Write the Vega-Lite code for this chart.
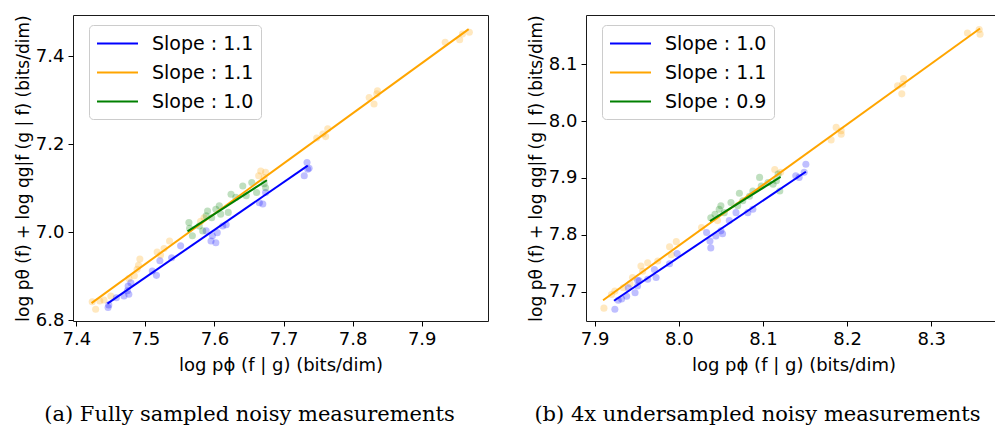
{
  "$schema": "https://vega.github.io/schema/vega-lite/v6.json",
  "autosize": {"type": "pad"},
  "padding": {"left": 13, "top": 14, "right": 0, "bottom": 0},
  "background": "white",
  "config": {
    "view": {"stroke": "#1a1a1a", "strokeWidth": 1},
    "axis": {"grid": false, "domain": false, "tickColor": "#000", "tickSize": 5, "tickWidth": 1, "labelFont": "DejaVu Sans", "labelFontSize": 18, "labelColor": "#000", "labelPadding": 4, "titleFont": "DejaVu Sans", "titleFontSize": 18, "titleFontWeight": "normal", "titleColor": "#000", "format": ".1f"},
    "axisX": {"titlePadding": 8},
    "legend": {"orient": "none", "legendX": 16, "legendY": 10, "padding": 7, "fillColor": "white", "strokeColor": "#cccccc", "cornerRadius": 4, "symbolType": "M-2,0H2", "symbolSize": 420, "symbolOffset": 10, "symbolStrokeWidth": 2, "labelFont": "DejaVu Sans", "labelFontSize": 19, "labelColor": "#000", "labelOffset": 23, "rowPadding": 7, "title": null},
    "title": {"font": "DejaVu Serif", "fontSize": 21, "fontWeight": "normal", "color": "#000", "orient": "bottom", "anchor": "middle"}
  },
  "datasets": {
    "pa": [
      {"s": "s2", "x": 7.423, "y": 6.842}, {"s": "s2", "x": 7.428, "y": 6.825}, {"s": "s2", "x": 7.434, "y": 6.844}, {"s": "s2", "x": 7.440, "y": 6.846}, {"s": "s2", "x": 7.450, "y": 6.855},
      {"s": "s2", "x": 7.476, "y": 6.895}, {"s": "s2", "x": 7.484, "y": 6.901}, {"s": "s2", "x": 7.488, "y": 6.916}, {"s": "s2", "x": 7.490, "y": 6.925}, {"s": "s2", "x": 7.492, "y": 6.939},
      {"s": "s2", "x": 7.517, "y": 6.955}, {"s": "s2", "x": 7.522, "y": 6.948}, {"s": "s2", "x": 7.527, "y": 6.963}, {"s": "s2", "x": 7.535, "y": 6.980}, {"s": "s2", "x": 7.580, "y": 7.025},
      {"s": "s2", "x": 7.585, "y": 7.033}, {"s": "s2", "x": 7.664, "y": 7.128}, {"s": "s2", "x": 7.667, "y": 7.139}, {"s": "s2", "x": 7.674, "y": 7.136}, {"s": "s2", "x": 7.672, "y": 7.124},
      {"s": "s2", "x": 7.748, "y": 7.214}, {"s": "s2", "x": 7.757, "y": 7.223}, {"s": "s2", "x": 7.761, "y": 7.217}, {"s": "s2", "x": 7.764, "y": 7.235}, {"s": "s2", "x": 7.824, "y": 7.306},
      {"s": "s2", "x": 7.831, "y": 7.291}, {"s": "s2", "x": 7.836, "y": 7.321}, {"s": "s2", "x": 7.835, "y": 7.314}, {"s": "s2", "x": 7.934, "y": 7.431}, {"s": "s2", "x": 7.955, "y": 7.437},
      {"s": "s2", "x": 7.959, "y": 7.450}, {"s": "s2", "x": 7.969, "y": 7.454},
      {"s": "s1", "x": 7.446, "y": 6.829}, {"s": "s1", "x": 7.447, "y": 6.835}, {"s": "s1", "x": 7.458, "y": 6.851}, {"s": "s1", "x": 7.469, "y": 6.855}, {"s": "s1", "x": 7.474, "y": 6.867},
      {"s": "s1", "x": 7.475, "y": 6.878}, {"s": "s1", "x": 7.479, "y": 6.885}, {"s": "s1", "x": 7.476, "y": 6.859}, {"s": "s1", "x": 7.510, "y": 6.912}, {"s": "s1", "x": 7.516, "y": 6.902},
      {"s": "s1", "x": 7.521, "y": 6.935}, {"s": "s1", "x": 7.538, "y": 6.942}, {"s": "s1", "x": 7.551, "y": 6.969}, {"s": "s1", "x": 7.588, "y": 7.003}, {"s": "s1", "x": 7.595, "y": 6.980},
      {"s": "s1", "x": 7.597, "y": 6.992}, {"s": "s1", "x": 7.604, "y": 6.999}, {"s": "s1", "x": 7.612, "y": 7.014}, {"s": "s1", "x": 7.617, "y": 7.017}, {"s": "s1", "x": 7.602, "y": 6.976},
      {"s": "s1", "x": 7.665, "y": 7.067}, {"s": "s1", "x": 7.670, "y": 7.064}, {"s": "s1", "x": 7.674, "y": 7.090}, {"s": "s1", "x": 7.734, "y": 7.158}, {"s": "s1", "x": 7.735, "y": 7.143},
      {"s": "s1", "x": 7.730, "y": 7.128}, {"s": "s1", "x": 7.737, "y": 7.145},
      {"s": "s3", "x": 7.564, "y": 7.009}, {"s": "s3", "x": 7.568, "y": 6.992}, {"s": "s3", "x": 7.578, "y": 7.014}, {"s": "s3", "x": 7.588, "y": 7.037}, {"s": "s3", "x": 7.590, "y": 7.048},
      {"s": "s3", "x": 7.596, "y": 7.033}, {"s": "s3", "x": 7.602, "y": 7.052}, {"s": "s3", "x": 7.607, "y": 7.060}, {"s": "s3", "x": 7.609, "y": 7.041}, {"s": "s3", "x": 7.620, "y": 7.045},
      {"s": "s3", "x": 7.624, "y": 7.086}, {"s": "s3", "x": 7.631, "y": 7.079}, {"s": "s3", "x": 7.641, "y": 7.105}, {"s": "s3", "x": 7.646, "y": 7.083}, {"s": "s3", "x": 7.654, "y": 7.113},
      {"s": "s3", "x": 7.661, "y": 7.090}, {"s": "s3", "x": 7.672, "y": 7.110}, {"s": "s3", "x": 7.674, "y": 7.101}, {"s": "s3", "x": 7.563, "y": 7.022}, {"s": "s3", "x": 7.583, "y": 7.003}
    ],
    "la": [
      {"s": "s1", "x": 7.445, "y": 6.838}, {"s": "s1", "x": 7.735, "y": 7.151},
      {"s": "s2", "x": 7.422, "y": 6.839}, {"s": "s2", "x": 7.968, "y": 7.461},
      {"s": "s3", "x": 7.561, "y": 7.002}, {"s": "s3", "x": 7.676, "y": 7.118}
    ],
    "pb": [
      {"s": "s2", "x": 7.911, "y": 7.671}, {"s": "s2", "x": 7.920, "y": 7.695}, {"s": "s2", "x": 7.924, "y": 7.701}, {"s": "s2", "x": 7.934, "y": 7.707}, {"s": "s2", "x": 7.942, "y": 7.714},
      {"s": "s2", "x": 7.945, "y": 7.725}, {"s": "s2", "x": 7.955, "y": 7.745}, {"s": "s2", "x": 7.957, "y": 7.736}, {"s": "s2", "x": 7.963, "y": 7.751}, {"s": "s2", "x": 7.975, "y": 7.754},
      {"s": "s2", "x": 7.989, "y": 7.779}, {"s": "s2", "x": 7.991, "y": 7.765}, {"s": "s2", "x": 7.997, "y": 7.788}, {"s": "s2", "x": 8.027, "y": 7.813}, {"s": "s2", "x": 8.046, "y": 7.825},
      {"s": "s2", "x": 8.114, "y": 7.915}, {"s": "s2", "x": 8.121, "y": 7.910}, {"s": "s2", "x": 8.181, "y": 7.967}, {"s": "s2", "x": 8.187, "y": 7.989}, {"s": "s2", "x": 8.193, "y": 7.977},
      {"s": "s2", "x": 8.193, "y": 7.983}, {"s": "s2", "x": 8.260, "y": 8.062}, {"s": "s2", "x": 8.265, "y": 8.048}, {"s": "s2", "x": 8.266, "y": 8.065}, {"s": "s2", "x": 8.267, "y": 8.075},
      {"s": "s2", "x": 8.343, "y": 8.155}, {"s": "s2", "x": 8.357, "y": 8.161}, {"s": "s2", "x": 8.358, "y": 8.153},
      {"s": "s1", "x": 7.924, "y": 7.669}, {"s": "s1", "x": 7.928, "y": 7.685}, {"s": "s1", "x": 7.932, "y": 7.687}, {"s": "s1", "x": 7.938, "y": 7.692}, {"s": "s1", "x": 7.940, "y": 7.707},
      {"s": "s1", "x": 7.948, "y": 7.698}, {"s": "s1", "x": 7.951, "y": 7.720}, {"s": "s1", "x": 7.951, "y": 7.710}, {"s": "s1", "x": 7.953, "y": 7.719}, {"s": "s1", "x": 7.963, "y": 7.722},
      {"s": "s1", "x": 7.971, "y": 7.739}, {"s": "s1", "x": 7.973, "y": 7.725}, {"s": "s1", "x": 7.989, "y": 7.749}, {"s": "s1", "x": 7.998, "y": 7.767}, {"s": "s1", "x": 8.033, "y": 7.804},
      {"s": "s1", "x": 8.037, "y": 7.789}, {"s": "s1", "x": 8.038, "y": 7.777}, {"s": "s1", "x": 8.044, "y": 7.798}, {"s": "s1", "x": 8.050, "y": 7.807}, {"s": "s1", "x": 8.052, "y": 7.802},
      {"s": "s1", "x": 8.060, "y": 7.825}, {"s": "s1", "x": 8.068, "y": 7.839}, {"s": "s1", "x": 8.082, "y": 7.839}, {"s": "s1", "x": 8.088, "y": 7.845}, {"s": "s1", "x": 8.139, "y": 7.904},
      {"s": "s1", "x": 8.143, "y": 7.901}, {"s": "s1", "x": 8.149, "y": 7.910}, {"s": "s1", "x": 8.151, "y": 7.924},
      {"s": "s3", "x": 8.038, "y": 7.830}, {"s": "s3", "x": 8.043, "y": 7.836}, {"s": "s3", "x": 8.048, "y": 7.845}, {"s": "s3", "x": 8.050, "y": 7.851}, {"s": "s3", "x": 8.054, "y": 7.839},
      {"s": "s3", "x": 8.062, "y": 7.857}, {"s": "s3", "x": 8.070, "y": 7.851}, {"s": "s3", "x": 8.072, "y": 7.873}, {"s": "s3", "x": 8.076, "y": 7.860}, {"s": "s3", "x": 8.084, "y": 7.868},
      {"s": "s3", "x": 8.088, "y": 7.877}, {"s": "s3", "x": 8.096, "y": 7.901}, {"s": "s3", "x": 8.098, "y": 7.886}, {"s": "s3", "x": 8.106, "y": 7.892}, {"s": "s3", "x": 8.112, "y": 7.889},
      {"s": "s3", "x": 8.118, "y": 7.907}, {"s": "s3", "x": 8.120, "y": 7.877}, {"s": "s3", "x": 8.116, "y": 7.895}
    ],
    "lb": [
      {"s": "s1", "x": 7.923, "y": 7.684}, {"s": "s1", "x": 8.151, "y": 7.911},
      {"s": "s2", "x": 7.910, "y": 7.685}, {"s": "s2", "x": 8.358, "y": 8.163},
      {"s": "s3", "x": 8.037, "y": 7.824}, {"s": "s3", "x": 8.121, "y": 7.902}
    ]
  },
  "spacing": 37,
  "resolve": {"legend": {"color": "independent"}, "scale": {"color": "independent"}},
  "hconcat": [
    {
      "width": 415, "height": 306,
      "title": {"text": "(a) Fully sampled noisy measurements", "offset": 30, "dx": -31},
      "layer": [
        {
          "data": {"name": "pa"},
          "mark": {"type": "circle", "size": 50, "opacity": 0.25},
          "encoding": {
            "x": {"field": "x", "type": "quantitative", "scale": {"domain": [7.3952, 7.996], "nice": false, "zero": false}, "axis": {"values": [7.4, 7.5, 7.6, 7.7, 7.8, 7.9], "title": "log pϕ (f | g) (bits/dim)"}},
            "y": {"field": "y", "type": "quantitative", "scale": {"domain": [6.7984, 7.4931], "nice": false, "zero": false}, "axis": {"values": [6.8, 7.0, 7.2, 7.4], "title": "log pθ (f) + log qg|f (g | f) (bits/dim)", "titlePadding": 3, "titleFontSize": 17}},
            "fill": {"field": "s", "type": "nominal", "scale": {"domain": ["s1", "s2", "s3"], "range": ["#0000ff", "#ffa500", "#008000"]}, "legend": null}
          }
        },
        {
          "data": {"name": "la"},
          "mark": {"type": "line", "strokeWidth": 2},
          "encoding": {
            "x": {"field": "x", "type": "quantitative"},
            "y": {"field": "y", "type": "quantitative"},
            "color": {"field": "s", "type": "nominal", "scale": {"domain": ["s1", "s2", "s3"], "range": ["#0000ff", "#ffa500", "#008000"]}, "legend": {"labelExpr": "datum.label == 's3' ? 'Slope : 1.0' : 'Slope : 1.1'"}}
          }
        }
      ]
    },
    {
      "width": 415, "height": 306,
      "title": {"text": "(b) 4x undersampled noisy measurements", "offset": 30, "dx": -36},
      "layer": [
        {
          "data": {"name": "pb"},
          "mark": {"type": "circle", "size": 50, "opacity": 0.25},
          "encoding": {
            "x": {"field": "x", "type": "quantitative", "scale": {"domain": [7.8897, 8.3829], "nice": false, "zero": false}, "axis": {"values": [7.9, 8.0, 8.1, 8.2, 8.3], "title": "log pϕ (f | g) (bits/dim)"}},
            "y": {"field": "y", "type": "quantitative", "scale": {"domain": [7.6484, 8.1867], "nice": false, "zero": false}, "axis": {"values": [7.7, 7.8, 7.9, 8.0, 8.1], "title": "log pθ (f) + log qg|f (g | f) (bits/dim)", "titlePadding": 3, "titleFontSize": 17}},
            "fill": {"field": "s", "type": "nominal", "scale": {"domain": ["s1", "s2", "s3"], "range": ["#0000ff", "#ffa500", "#008000"]}, "legend": null}
          }
        },
        {
          "data": {"name": "lb"},
          "mark": {"type": "line", "strokeWidth": 2},
          "encoding": {
            "x": {"field": "x", "type": "quantitative"},
            "y": {"field": "y", "type": "quantitative"},
            "color": {"field": "s", "type": "nominal", "scale": {"domain": ["s1", "s2", "s3"], "range": ["#0000ff", "#ffa500", "#008000"]}, "legend": {"labelExpr": "datum.label == 's1' ? 'Slope : 1.0' : (datum.label == 's2' ? 'Slope : 1.1' : 'Slope : 0.9')"}}
          }
        }
      ]
    }
  ]
}
